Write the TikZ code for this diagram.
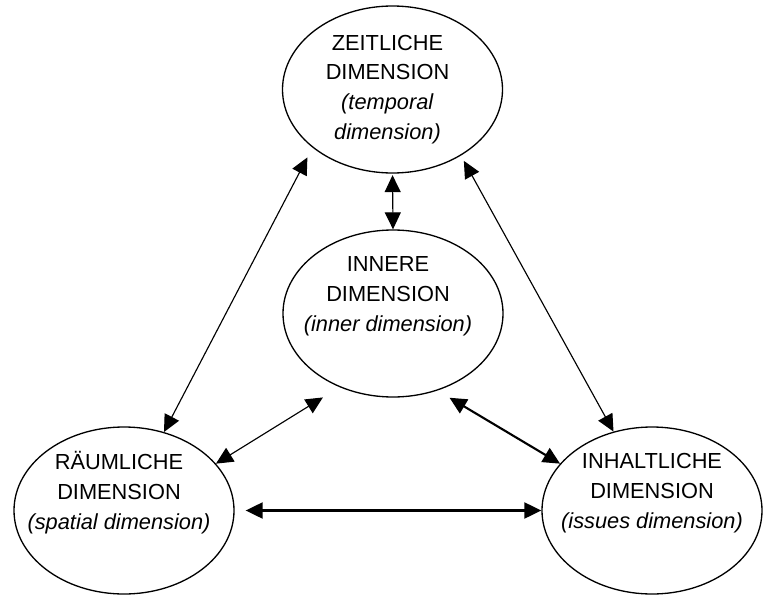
\documentclass[tikz,border=0pt]{standalone}
\usepackage{fontspec}
\setmainfont{Liberation Sans}
\usepackage{tikz}
\usetikzlibrary{arrows.meta,shapes.geometric}

\begin{document}
\begin{tikzpicture}[>={Triangle[length=3.4mm,width=3.2mm]},
  dim/.style={draw,ellipse,line width=0.75pt,minimum width=4.4cm,minimum height=3.34cm,inner sep=0pt},
  txt/.style={align=center,inner sep=0pt,font=\fontsize{12.4}{17}\selectfont},
  link/.style={<->,line width=0.65pt},
  linkb/.style={<->,line width=1.2pt}]
  \useasboundingbox (0,0) rectangle (15.38,11.88);
  % four dimensions, inner one in the middle
  \node[dim] (Z) at (7.85,10.09) {};
  \node[dim] (I) at (7.86,5.61) {};
  \node[dim] (R) at (2.48,1.67) {};
  \node[dim] (H) at (13.04,1.67) {};
  \node[txt] (Zt) at ([xshift=-1mm]Z) {ZEITLICHE\\DIMENSION\\\textit{(temporal}\\\textit{dimension)}};
  \node[txt] (It) at ([xshift=-1mm,yshift=3.5mm]I) {INNERE\\DIMENSION\\\textit{(inner dimension)}};
  \node[txt] (Rt) at ([xshift=-1mm,yshift=3.5mm]R) {RÄUMLICHE\\DIMENSION\\\textit{(spatial dimension)}};
  \node[txt] (Ht) at ([yshift=3.5mm]H) {INHALTLICHE\\DIMENSION\\\textit{(issues dimension)}};
  \draw[link,shorten <=2.2mm] (Z.216) -- (R.63);
  \draw[link,shorten <=1.2mm] (Z.316) -- (H.116);
  \draw[link,shorten <=0.3mm] (Z.south) -- (I.north);
  \draw[link,shorten <=3.9mm] (I.234) -- (R.27);
  \draw[linkb,shorten <=2.8mm] (I.300) -- (H.153);
  \draw[linkb,shorten <=2.2mm] (R.east) -- (H.west);
\end{tikzpicture}
\end{document}
